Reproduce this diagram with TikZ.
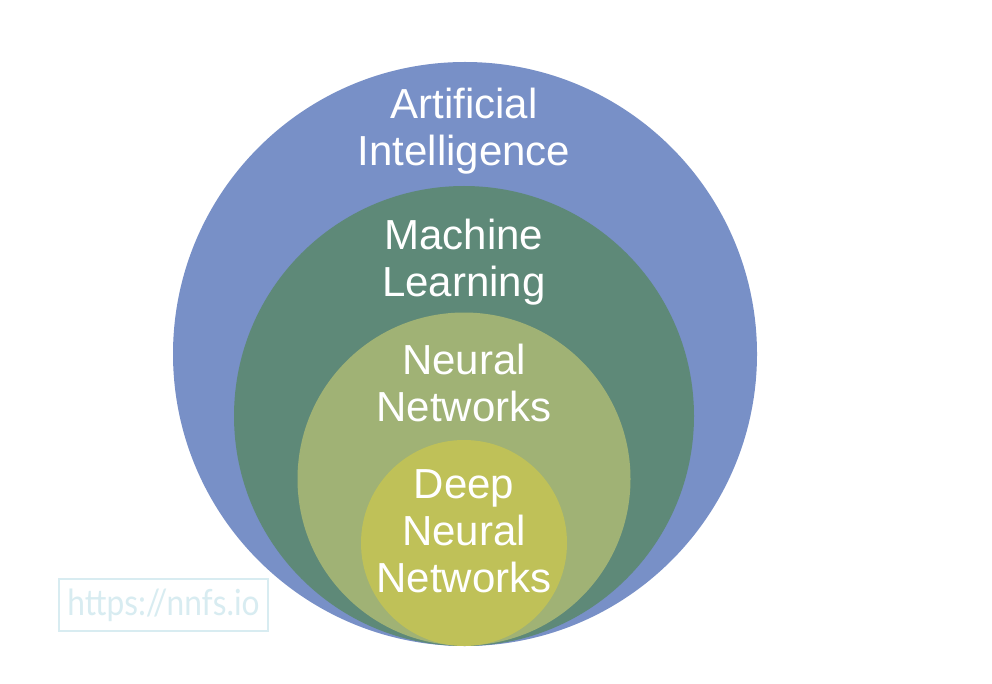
\documentclass[tikz,border=0pt]{standalone}
\usepackage{fontspec}
\setmainfont{Liberation Sans}
\newfontfamily\wmfont{Lato}
\definecolor{aiblue}{HTML}{7890C7}
\definecolor{mlgreen}{HTML}{5E8978}
\definecolor{nnolive}{HTML}{A0B275}
\definecolor{dnnyellow}{HTML}{BFC158}
\definecolor{wmcyan}{HTML}{D8ECF1}
\begin{document}
\begin{tikzpicture}[x=1pt,y=-1pt,
  disc/.style={circle,inner sep=0pt,draw=none},
  label/.style={text=white,align=center,anchor=base,inner sep=0pt,
    font=\fontsize{42}{47}\selectfont}]
\useasboundingbox[fill=white] (0,0) rectangle (992,684);
\node[disc,fill=aiblue,minimum size=584pt] (ai) at (465,354) {};
\node[disc,fill=mlgreen,minimum size=460pt] (ml) at (464,416) {};
\node[disc,fill=nnolive,minimum size=333pt] (nn) at (464,479) {};
\node[disc,fill=dnnyellow,minimum size=206pt] (dnn) at (464,543) {};
\node[label] (ailbl) at (464,166) {Artificial\\Intelligence};
\node[label] (mllbl) at (464,297) {Machine\\Learning};
\node[label] (nnlbl) at (464,421) {Neural\\Networks};
\node[label] (dnnlbl) at (464,592) {Deep\\Neural\\Networks};
\node[draw=wmcyan,line width=1.5pt,minimum width=209pt,minimum height=52pt,
  inner sep=0pt,text=wmcyan,font=\wmfont\fontsize{36}{36}\selectfont] (wm) at (163.5,605) {\scalebox{0.88}[1]{https://nnfs.io}};
\end{tikzpicture}
\end{document}
